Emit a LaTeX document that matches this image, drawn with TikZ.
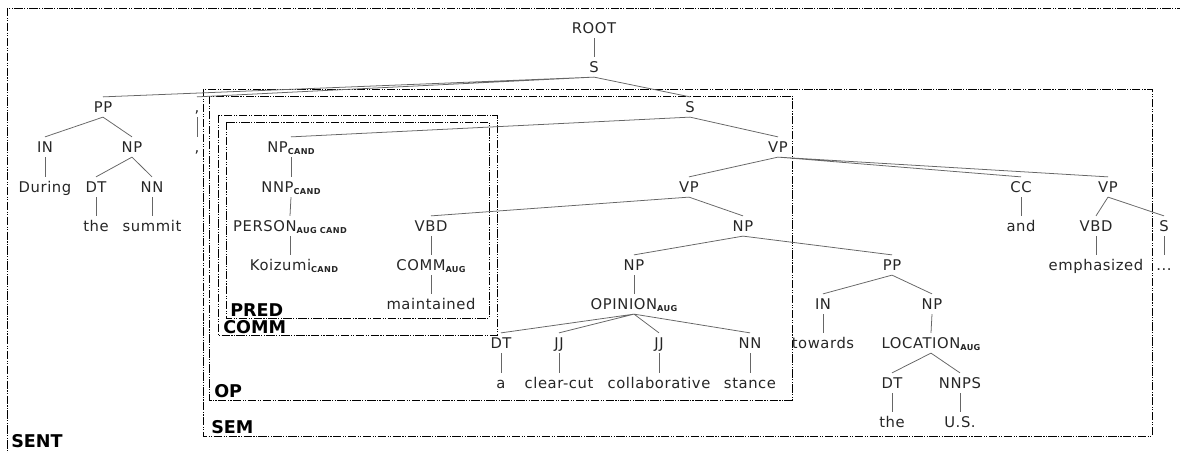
\documentclass[tikz,border=0pt]{standalone}
\usepackage{fontspec}
\setmainfont{DejaVu Sans}
\newfontfamily\trfont{DejaVu Sans}[LetterSpace=4]
\usepackage{tikz}
\usetikzlibrary{positioning}
\newcommand{\ann}[1]{\raisebox{-1.6pt}{\fontsize{5.8}{6}\selectfont\bfseries #1}}
\tikzset{
  tg/.style={inner sep=0pt, outer sep=3.6pt, text height=7.2pt, text depth=0pt, font=\trfont\fontsize{10.5}{12}\selectfont, text=black!85},
  wd/.style={tg},
  br/.style={draw=black!60, line width=0.55pt},
  fr/.style={draw=black, line width=0.7pt, dash pattern=on 6pt off 1pt on 0.8pt off 1pt on 0.8pt off 1pt},
  lb/.style={anchor=west, inner sep=0pt, font=\fontsize{12.5}{13}\selectfont\bfseries},
}
\begin{document}
\begin{tikzpicture}[x=0.025cm, y=-0.025cm]
\useasboundingbox (0,0) rectangle (1180,453);
\draw[fr] (7,8) rectangle (1200,470);
\draw[fr] (203,89) rectangle (1152,436);
\draw[fr] (209,96) rectangle (792,400);
\draw[fr] (218,115) rectangle (497,335);
\draw[fr] (226,122) rectangle (489,318);
\node[lb] (sent) at (11,441) {SENT};
\node[lb] (sem) at (211,427) {SEM};
\node[lb] (op) at (214,391) {OP};
\node[lb] (comm) at (223,327) {COMM};
\node[lb] (pred) at (230,310) {PRED};
\node[tg] (root) at (594,28) {ROOT};
\node[tg] (s0) at (594,67) {S};
\node[tg] (ppa) at (103,107) {PP};
\node[tg] (cma) at (197,107) {,};
\node[wd] (cmb) at (197,147) {,};
\node[tg] (s1) at (690,107) {S};
\node[tg] (ina) at (45,147) {IN};
\node[tg] (npa) at (132,147) {NP};
\node[wd] (during) at (45,187) {During};
\node[tg] (dta) at (96,187) {DT};
\node[tg] (nna) at (152,187) {NN};
\node[wd] (thea) at (96,226) {the};
\node[wd] (summit) at (152,226) {summit};
\node[tg] (npc) at (291,147) {NP\ann{CAND}};
\node[tg] (nnp) at (291,187) {NNP\ann{CAND}};
\node[tg] (person) at (290,226) {PERSON\ann{AUG CAND}};
\node[wd] (koizumi) at (294,265) {Koizumi\ann{CAND}};
\node[tg] (vpa) at (778,147) {VP};
\node[tg] (vpb) at (689,187) {VP};
\node[tg] (cc) at (1021,187) {CC};
\node[tg] (vpc) at (1108,187) {VP};
\node[tg] (vbda) at (431,226) {VBD};
\node[tg] (npb) at (743,226) {NP};
\node[wd] (and) at (1021,226) {and};
\node[tg] (vbdb) at (1096,226) {VBD};
\node[tg] (s2) at (1164,226) {S};
\node[tg] (commaug) at (431,265) {COMM\ann{AUG}};
\node[tg] (npd) at (634,265) {NP};
\node[tg] (ppb) at (892,265) {PP};
\node[wd] (emph) at (1096,265) {emphasized};
\node[wd] (dots) at (1164,265) {...};
\node[wd] (maint) at (431,304) {maintained};
\node[tg] (opin) at (634,304) {OPINION\ann{AUG}};
\node[tg] (inb) at (823,304) {IN};
\node[tg] (npe) at (932,304) {NP};
\node[tg] (dtb) at (501,343) {DT};
\node[tg] (jja) at (559,343) {JJ};
\node[tg] (jjb) at (659,343) {JJ};
\node[tg] (nnb) at (750,343) {NN};
\node[wd] (towards) at (823,343) {towards};
\node[tg] (loc) at (931,343) {LOCATION\ann{AUG}};
\node[wd] (a) at (501,383) {a};
\node[wd] (clear) at (559,383) {clear-cut};
\node[wd] (collab) at (659,383) {collaborative};
\node[wd] (stance) at (750,383) {stance};
\node[tg] (dtc) at (892,383) {DT};
\node[tg] (nnps) at (960,383) {NNPS};
\node[wd] (thec) at (892,422) {the};
\node[wd] (us) at (960,422) {U.S.};
\draw[br] (root.south)--(s0.north);
\draw[br] (s0.south)--(ppa.north) (s0.south)--(cma.north) (s0.south)--(s1.north);
\draw[br] (cma.south)--(cmb.north);
\draw[br] (ppa.south)--(ina.north) (ppa.south)--(npa.north);
\draw[br] (ina.south)--(during.north);
\draw[br] (npa.south)--(dta.north) (npa.south)--(nna.north);
\draw[br] (dta.south)--(thea.north);
\draw[br] (nna.south)--(summit.north);
\draw[br] (s1.south)--(npc.north) (s1.south)--(vpa.north);
\draw[br] (npc.south)--(nnp.north);
\draw[br] (nnp.south)--(person.north);
\draw[br] (person.south)--(koizumi.north -| person.south);
\draw[br] (vpa.south)--(vpb.north) (vpa.south)--(cc.north) (vpa.south)--(vpc.north);
\draw[br] (vpb.south)--(vbda.north) (vpb.south)--(npb.north);
\draw[br] (vbda.south)--(commaug.north);
\draw[br] (commaug.south)--(maint.north);
\draw[br] (npb.south)--(npd.north) (npb.south)--(ppb.north);
\draw[br] (npd.south)--(opin.north);
\draw[br] (opin.south)--(dtb.north) (opin.south)--(jja.north) (opin.south)--(jjb.north) (opin.south)--(nnb.north);
\draw[br] (dtb.south)--(a.north);
\draw[br] (jja.south)--(clear.north);
\draw[br] (jjb.south)--(collab.north);
\draw[br] (nnb.south)--(stance.north);
\draw[br] (ppb.south)--(inb.north) (ppb.south)--(npe.north);
\draw[br] (inb.south)--(towards.north);
\draw[br] (npe.south)--(loc.north);
\draw[br] (loc.south)--(dtc.north) (loc.south)--(nnps.north);
\draw[br] (dtc.south)--(thec.north);
\draw[br] (nnps.south)--(us.north);
\draw[br] (cc.south)--(and.north);
\draw[br] (vpc.south)--(vbdb.north) (vpc.south)--(s2.north);
\draw[br] (vbdb.south)--(emph.north);
\draw[br] (s2.south)--(dots.north);
\end{tikzpicture}
\end{document}
